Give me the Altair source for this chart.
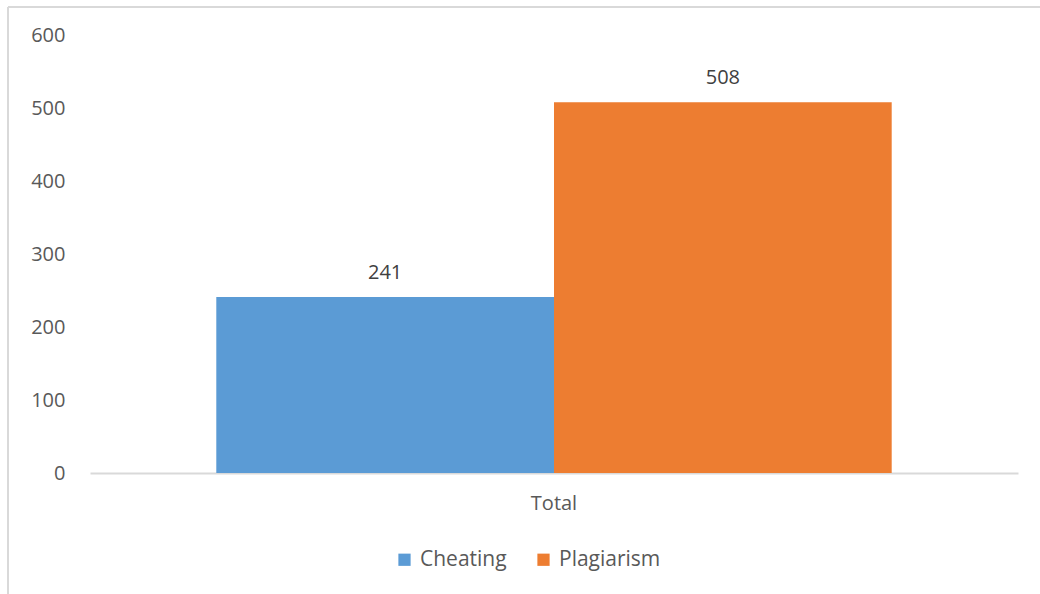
import altair as alt
import pandas as pd

categories = ["Total", "Total"]
series = ["Cheating", "Plagiarism"]
values = [241, 508]
colors = ["#5B9BD5", "#ED7D31"]
y_ticks = [0, 100, 200, 300, 400, 500, 600]

df = pd.DataFrame({"cat": categories, "series": series, "value": values})

FONT = "Open Sans"
GRAY = "#595959"
FS = 20

base = alt.Chart(df)

bars = base.mark_bar().encode(
    x=alt.X("cat:N", title=None,
            scale=alt.Scale(paddingOuter=0.187, paddingInner=0),
            axis=alt.Axis(labelAngle=0, ticks=False, domainColor="#d9d9d9",
                          domainWidth=2, labelPadding=20, labelFontSize=FS,
                          labelColor=GRAY, labelFont=FONT)),
    xOffset=alt.XOffset("series:N", scale=alt.Scale(paddingInner=0, paddingOuter=0)),
    y=alt.Y("value:Q", title=None,
            scale=alt.Scale(domain=[0, 600], nice=False),
            axis=alt.Axis(values=y_ticks, grid=False, domain=False, ticks=False,
                          labelPadding=25, labelFontSize=FS, labelColor=GRAY,
                          labelFont=FONT)),
    color=alt.Color("series:N", title=None,
                    scale=alt.Scale(domain=series, range=colors),
                    legend=alt.Legend(orient="none", legendX=304, legendY=514,
                                      direction="horizontal", symbolType="square",
                                      symbolSize=150, symbolStrokeWidth=0,
                                      labelFontSize=21, labelColor=GRAY,
                                      labelFont=FONT, columnPadding=26,
                                      labelOffset=5)),
)

labels = base.mark_text(baseline="bottom", dy=-14, fontSize=FS, color="#404040",
                        font=FONT).encode(
    x="cat:N",
    xOffset="series:N",
    y="value:Q",
    text="value:Q",
)

border_left = alt.Chart(pd.DataFrame({"a": [0]})).mark_rule(color="#d9d9d9", strokeWidth=2).encode(
    x=alt.value(-82), y=alt.value(-28), y2=alt.value(570)
)
border_top = alt.Chart(pd.DataFrame({"a": [0]})).mark_rule(color="#d9d9d9", strokeWidth=2).encode(
    x=alt.value(-82), x2=alt.value(960), y=alt.value(-28)
)

chart = alt.layer(border_left, border_top, bars, labels).properties(
    width=928, height=438,
    autosize=alt.AutoSizeParams(type="none"),
    padding={"left": 90, "top": 35, "right": 22, "bottom": 121},
    background="white",
).configure_view(stroke=None)

chart.save("out.html", embed_options={"renderer": "svg", "actions": False})
